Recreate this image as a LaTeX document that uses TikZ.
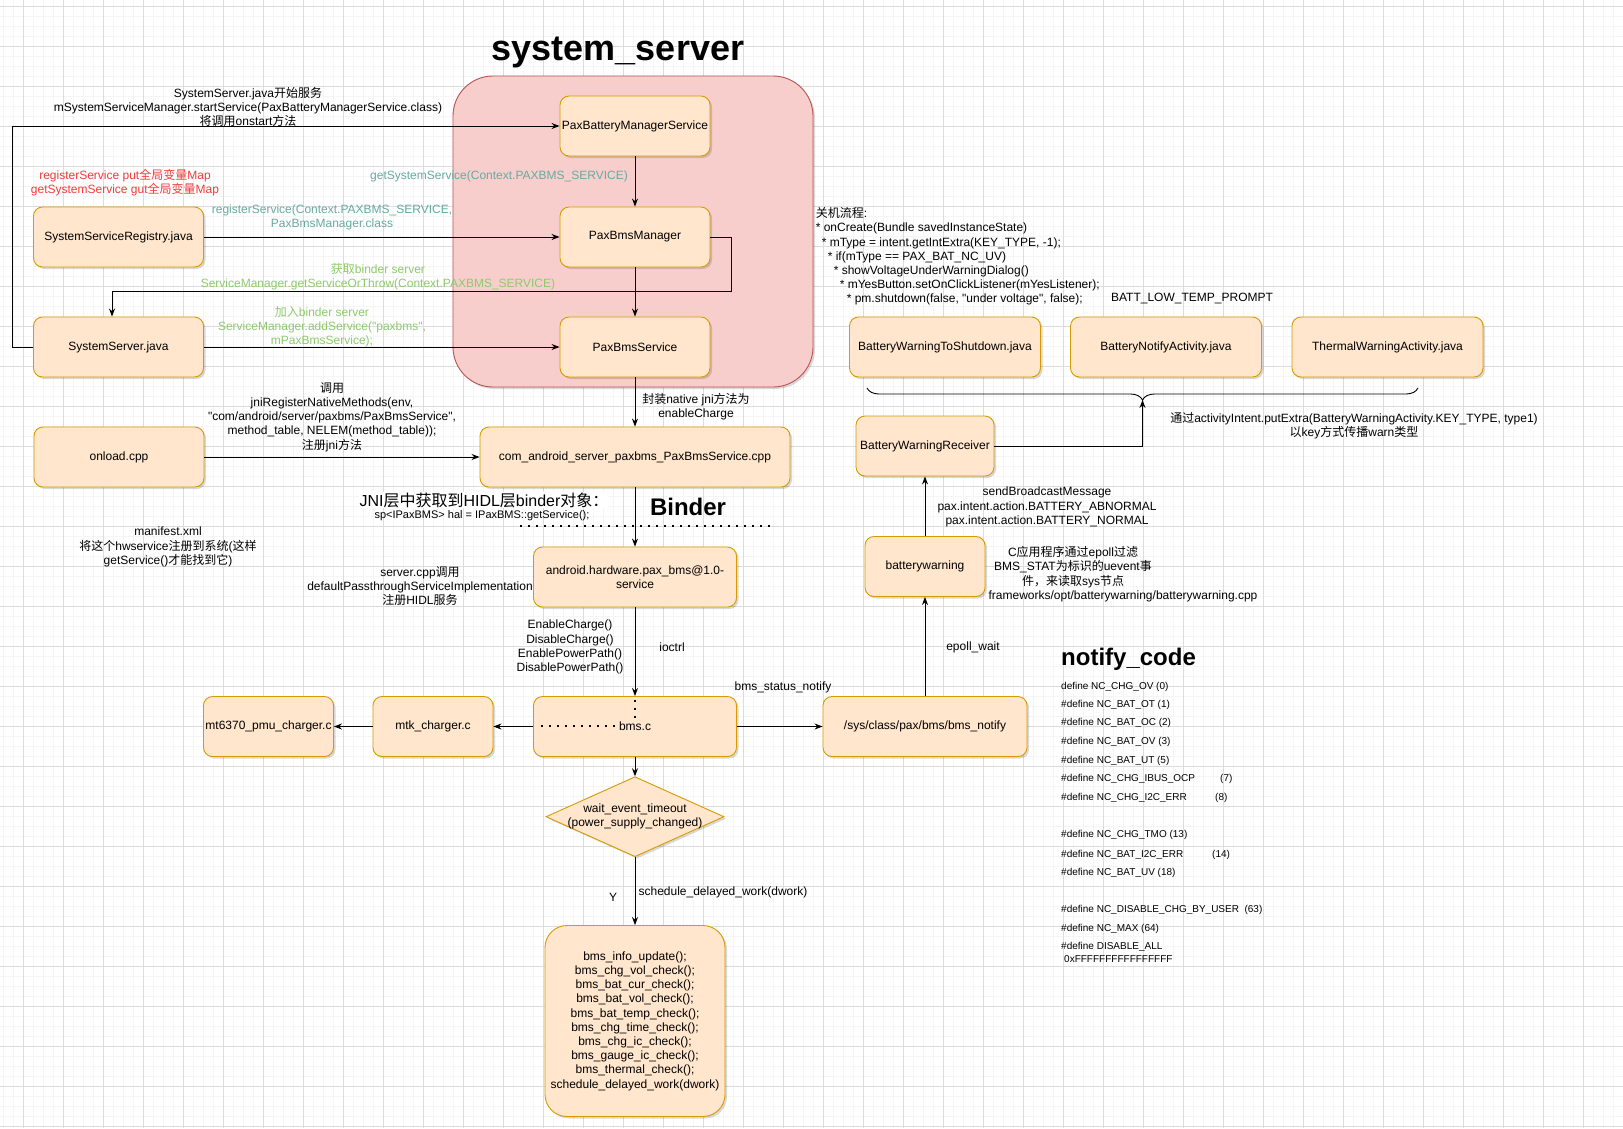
\documentclass[tikz,border=0pt]{standalone}
\usepackage{fontspec}
\setmainfont{Liberation Sans}
\newfontfamily\cjk{Noto Sans CJK SC}
\usepackage{xcolor}
\usepackage{tikz}
\usetikzlibrary{arrows.meta}
\usetikzlibrary{positioning}
\usetikzlibrary{shapes.geometric}
\usetikzlibrary{decorations.pathreplacing}
\usetikzlibrary{shadows}
\definecolor{boxfill}{HTML}{FFE6CC}
\definecolor{boxline}{HTML}{D79B00}
\definecolor{sysfill}{HTML}{F8CECC}
\definecolor{sysline}{HTML}{B85450}
\definecolor{redtxt}{HTML}{F03C3C}
\definecolor{tealtxt}{HTML}{67AB9F}
\definecolor{greentxt}{HTML}{8CCB6A}
\definecolor{gridminor}{HTML}{F5F5F5}
\definecolor{gridmajor}{HTML}{DCDCDC}
\newcommand{\zh}[1]{{\cjk #1}}
\newcommand{\fsn}{\fontsize{12}{14.2}\selectfont}
\newcommand{\fss}{\fontsize{10}{11.4}\selectfont}

\begin{document}
\begin{tikzpicture}[x=1pt,y=-1pt,>={Stealth[length=8pt,width=6pt]},font=\fsn,
    box/.style={draw=boxline,fill=boxfill,line width=0.9pt,rounded corners=9pt,minimum height=60pt,align=center,inner sep=1pt,
      drop shadow={shadow xshift=2pt,shadow yshift=-2pt,opacity=0.15,fill=black}},
    lbl/.style={align=center,inner sep=0pt},
    minorline/.style={draw=gridminor,line width=0.6pt},
    majorline/.style={draw=gridmajor,line width=0.8pt},
    dotline/.style={line width=2pt,dash pattern=on 2pt off 6pt}]
    \useasboundingbox (0,0) rectangle (1623,1128);
    \fill[white] (0,0) rectangle (1623,1128);
    % grid
    \foreach \i in {0,...,162} \draw[minorline] (3.3+10*\i,0) -- ++(0,1128);
    \foreach \j in {0,...,112} \draw[minorline] (0,6+10*\j) -- ++(1623,0);
    \foreach \i in {0,...,40} \draw[majorline] (23.3+40*\i,0) -- ++(0,1128);
    \foreach \j in {0,...,28} \draw[majorline] (0,6+40*\j) -- ++(1623,0);

    \node[lbl,font=\fontsize{36}{40}\selectfont\bfseries] (title) at (618,52) {system\_server};
    \node[draw=sysline,fill=sysfill,line width=0.9pt,rounded corners=40pt,minimum width=360pt,minimum height=311pt,
      drop shadow={shadow xshift=2pt,shadow yshift=-2pt,opacity=0.15,fill=black}] (sysbox) at (633,231.5) {};

    % boxes
    \node[box,minimum width=150pt] (pbms) at (635,126) {PaxBatteryManagerService};
    \node[box,minimum width=150pt] (pbm) at (635,237) {PaxBmsManager};
    \node[box,minimum width=150pt] (pbs) at (635,347) {PaxBmsService};
    \node[box,minimum width=170pt] (ssr) at (118.5,237) {SystemServiceRegistry.java};
    \node[box,minimum width=170pt] (ss) at (118.5,347) {SystemServer.java};
    \node[box,minimum width=170pt] (onload) at (119,457) {onload.cpp};
    \node[box,minimum width=310pt] (jni) at (635,457) {com\_android\_server\_paxbms\_PaxBmsService.cpp};
    \node[box,minimum width=203pt] (hal) at (635,577) {android.hardware.pax\_bms@1.0-\\service};
    \node[box,minimum width=203pt] (bmsc) at (635,726.5) {bms.c};
    \node[box,minimum width=120pt] (mtk) at (433,726.5) {mtk\_charger.c};
    \node[box,minimum width=130pt] (pmu) at (268.5,726.5) {mt6370\_pmu\_charger.c};
    \node[box,minimum width=204pt] (sysn) at (925,726.5) {/sys/class/pax/bms/bms\_notify};
    \node[box,minimum width=120pt] (bw) at (925,566.5) {batterywarning};
    \node[box,minimum width=138pt] (bwr) at (925,446) {BatteryWarningReceiver};
    \node[box,minimum width=191pt] (bwts) at (945,347) {BatteryWarningToShutdown.java};
    \node[box,minimum width=191pt] (bna) at (1166,347) {BatteryNotifyActivity.java};
    \node[box,minimum width=191pt] (twa) at (1387.5,347) {ThermalWarningActivity.java};
    \node[box,diamond,rounded corners=0pt,aspect=2.225,inner xsep=-7pt,inner ysep=0pt,minimum width=178pt,minimum height=80pt] (wait) at (635,816.7) {wait\_event\_timeout\\(power\_supply\_changed)};
    \node[box,minimum width=180pt,minimum height=191pt,rounded corners=22pt] (funcs) at (635,1021) {bms\_info\_update();\\bms\_chg\_vol\_check();\\bms\_bat\_cur\_check();\\bms\_bat\_vol\_check();\\bms\_bat\_temp\_check();\\bms\_chg\_time\_check();\\bms\_chg\_ic\_check();\\bms\_gauge\_ic\_check();\\bms\_thermal\_check();\\schedule\_delayed\_work(dwork)};

    % connectors
    \draw[->,line width=0.9pt] (ss.west) -- ++(-20.5,0) |- (pbms.west);
    \draw[->,line width=0.9pt] (ssr.east) -- (pbm.west);
    \draw[->,line width=0.9pt] (ss.east) -- (pbs.west);
    \draw[->,line width=0.9pt] (pbms) -- (pbm);
    \draw[->,line width=0.9pt] (pbm) -- (pbs);
    \draw[->,line width=0.9pt] (pbm.east) -- ++(21,0) -- ++(0,54) -| ([xshift=-6.5pt]ss.north);
    \draw[->,line width=0.9pt] (pbs) -- (jni);
    \draw[->,line width=0.9pt] (onload) -- (jni);
    \draw[->,line width=0.9pt] (jni) -- (hal);
    \draw[->,line width=0.9pt] (hal) -- (bmsc);
    \draw[->,line width=0.9pt] (bmsc) -- (mtk);
    \draw[->,line width=0.9pt] (mtk) -- (pmu);
    \draw[->,line width=0.9pt] (bmsc) -- (sysn);
    \draw[->,line width=0.9pt] (bmsc) -- (wait);
    \draw[->,line width=0.9pt] (wait) -- (funcs);
    \draw[->,line width=0.9pt] (sysn) -- (bw);
    \draw[->,line width=0.9pt] (bw) -- (bwr);
    \coordinate (braceleft) at (867,388);
    \coordinate (braceright) at (1418,388);
    \coordinate (bracetip) at (1142.5,400);
    \draw[line width=0.9pt,decorate,decoration={brace,mirror,amplitude=12pt}] (braceleft) -- (braceright);
    \draw[->,line width=0.9pt] (bwr.east) -| (bracetip);
    \draw[dotline] (520,526) -- (773,526);
    \draw[dotline] (541,726) -- (615,726);
    \draw[dotline] (635,700) -- (635,720);

    % labels
    \node[lbl] (lstart) at (248,107) {SystemServer.java\zh{开始服务}\\mSystemServiceManager.startService(PaxBatteryManagerService.class)\\\zh{将调用}onstart\zh{方法}};
    \node[lbl,text=redtxt] (lmap) at (125,183) {registerService put\zh{全局变量}Map\\getSystemService gut\zh{全局变量}Map};
    \node[lbl,text=tealtxt] (lgetsys) at (499,176) {getSystemService(Context.PAXBMS\_SERVICE)};
    \node[lbl,text=tealtxt] (lregsvc) at (332,217.5) {registerService(Context.PAXBMS\_SERVICE,\\PaxBmsManager.class};
    \node[lbl,text=greentxt] (lgetbinder) at (378,277) {\zh{获取}binder server\\ServiceManager.getServiceOrThrow(Context.PAXBMS\_SERVICE)};
    \node[lbl,text=greentxt] (laddbinder) at (322,327) {\zh{加入}binder server\\ServiceManager.addService(\textquotedbl paxbms\textquotedbl,\\mPaxBmsService);};
    \node[lbl] (lwrap) at (696,407) {\zh{封装}native jni\zh{方法为}\\enableCharge};
    \node[lbl] (lreg) at (332,417) {\zh{调用}\\jniRegisterNativeMethods(env,\\\textquotedbl com/android/server/paxbms/PaxBmsService\textquotedbl,\\method\_table, NELEM(method\_table));\\\zh{注册}jni\zh{方法}};
    \node[lbl,fill=white,inner sep=1pt,font=\fontsize{16}{19}\selectfont] (ljni) at (484,500) {JNI\zh{层中获取到}HIDL\zh{层}binder\zh{对象：}};
    \node[lbl,font=\fontsize{11}{13}\selectfont] (lsp) at (482,516) {sp<IPaxBMS> hal = IPaxBMS::getService();};
    \node[lbl,font=\fontsize{24}{28}\selectfont\bfseries] (lbinder) at (688,507) {Binder};
    \node[lbl] (lmanifest) at (168,547) {manifest.xml\\\zh{将这个}hwservice\zh{注册到系统}(\zh{这样}\\getService()\zh{才能找到它})};
    \node[lbl] (lserver) at (420,586) {server.cpp\zh{调用}\\defaultPassthroughServiceImplementation\\\zh{注册}HIDL\zh{服务}};
    \node[lbl] (lcalls) at (570,647) {EnableCharge()\\DisableCharge()\\EnablePowerPath()\\DisablePowerPath()};
    \node[lbl] (lioctrl) at (672,647) {ioctrl};
    \node[lbl] (lnotify) at (783,687) {bms\_status\_notify};
    \node[lbl] (lepoll) at (973,647) {epoll\_wait};
    \node[lbl] (lcapp) at (1073,567) {C\zh{应用程序通过}epoll\zh{过滤}\\BMS\_STAT\zh{为标识的}uevent\zh{事}\\\zh{件，来读取}sys\zh{节点}};
    \node[lbl] (lcpp) at (1123,596) {frameworks/opt/batterywarning/batterywarning.cpp};
    \node[lbl] (lbroadcast) at (1047,507) {sendBroadcastMessage\\pax.intent.action.BATTERY\_ABNORMAL\\pax.intent.action.BATTERY\_NORMAL};
    \node[lbl,align=left,anchor=north west] (lshutdown) at (815.6,207.5) {\zh{关机流程}:\\
      * onCreate(Bundle savedInstanceState)\\
      \hspace*{6pt}* mType = intent.getIntExtra(KEY\_TYPE, -1);\\
      \hspace*{12pt}* if(mType == PAX\_BAT\_NC\_UV)\\
      \hspace*{18pt}* showVoltageUnderWarningDialog()\\
      \hspace*{24pt}* mYesButton.setOnClickListener(mYesListener);\\
      \hspace*{31pt}* pm.shutdown(false, \textquotedbl under voltage\textquotedbl, false);};
    \node[lbl] (lbattlow) at (1192,298) {BATT\_LOW\_TEMP\_PROMPT};
    \node[lbl] (lputextra) at (1354,426) {\zh{通过}activityIntent.putExtra(BatteryWarningActivity.KEY\_TYPE, type1)\\\zh{以}key\zh{方式传播}warn\zh{类型}};
    \node[lbl] (ly) at (613,897) {Y};
    \node[lbl] (lsched) at (723,892) {schedule\_delayed\_work(dwork)};
    \node[lbl,anchor=west,font=\fontsize{24}{28}\selectfont\bfseries] (lcode) at (1061,659) {notify\_code};
    \foreach \yy/\txt [count=\k] in {686.7/define NC\_CHG\_OV (0),
      704.7/\#define NC\_BAT\_OT (1),
      723.3/\#define NC\_BAT\_OC (2),
      742.3/\#define NC\_BAT\_OV (3),
      760.7/\#define NC\_BAT\_UT (5),
      779.3/\makebox[159pt][l]{\#define NC\_CHG\_IBUS\_OCP}(7),
      798.3/\makebox[154pt][l]{\#define NC\_CHG\_I2C\_ERR}(8),
      835.3/\#define NC\_CHG\_TMO (13),
      854.7/\makebox[151pt][l]{\#define NC\_BAT\_I2C\_ERR}(14),
      873.3/\#define NC\_BAT\_UV (18),
      910.3/\#define NC\_DISABLE\_CHG\_BY\_USER\ \ (63),
      929.3/\#define NC\_MAX (64),
      947.3/\#define DISABLE\_ALL,
      958.7/\hspace*{3pt}0xFFFFFFFFFFFFFFFF}
      \node[lbl,anchor=west,font=\fss] (def\k) at (1061,\yy) {\txt};
  \end{tikzpicture}
\end{document}
